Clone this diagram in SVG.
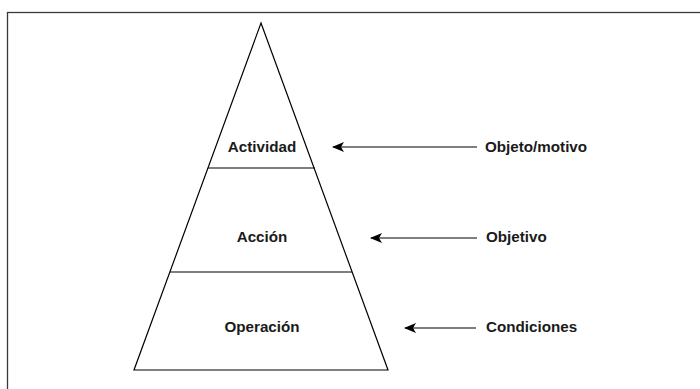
<svg xmlns="http://www.w3.org/2000/svg" width="700" height="389" viewBox="0 0 700 389">
  <style>
    .frame { fill: none; stroke: #3a3a3a; stroke-width: 1.3; }
    .shape { fill: none; stroke: #000; stroke-width: 1.2; stroke-linejoin: miter; }
    .lbl { font-family: "Liberation Sans", Arial, sans-serif; font-weight: bold; font-size: 15.2px; fill: #1a1a1a; }
    .mid { text-anchor: middle; }
    .conn { stroke: #000; stroke-width: 1.2; fill: none; marker-end: url(#arrow); }
  </style>
  <defs>
    <marker id="arrow" viewBox="0 0 12 10" refX="11" refY="5" markerWidth="12" markerHeight="10" markerUnits="userSpaceOnUse" orient="auto">
      <path d="M0,0 L12,5 L0,10 L3,5 Z" fill="#000"/>
    </marker>
  </defs>
  <rect width="700" height="389" fill="#fff"/>
  <rect class="frame" x="7.5" y="12.5" width="800" height="500"/>

  <g id="pyramid">
    <polygon class="shape" points="261,23 388,370 134,370"/>
  </g>
  <g id="actividad">
    <line class="shape" x1="208" y1="168" x2="315" y2="168"/>
    <text class="lbl mid" x="262" y="152">Actividad</text>
  </g>
  <g id="accion">
    <line class="shape" x1="170" y1="272" x2="352" y2="272"/>
    <text class="lbl mid" x="262" y="242">Acción</text>
  </g>
  <g id="operacion">
    <text class="lbl mid" x="262" y="332">Operación</text>
  </g>
  <g id="objeto-motivo">
    <text class="lbl" x="485" y="152">Objeto/motivo</text>
  </g>
  <g id="objetivo">
    <text class="lbl" x="486" y="242">Objetivo</text>
  </g>
  <g id="condiciones">
    <text class="lbl" x="486" y="332">Condiciones</text>
  </g>

  <g id="connectors">
    <line class="conn" x1="477" y1="147" x2="333" y2="147"/>
    <line class="conn" x1="477" y1="238" x2="371" y2="238"/>
    <line class="conn" x1="476" y1="328" x2="405" y2="328"/>
  </g>
</svg>
